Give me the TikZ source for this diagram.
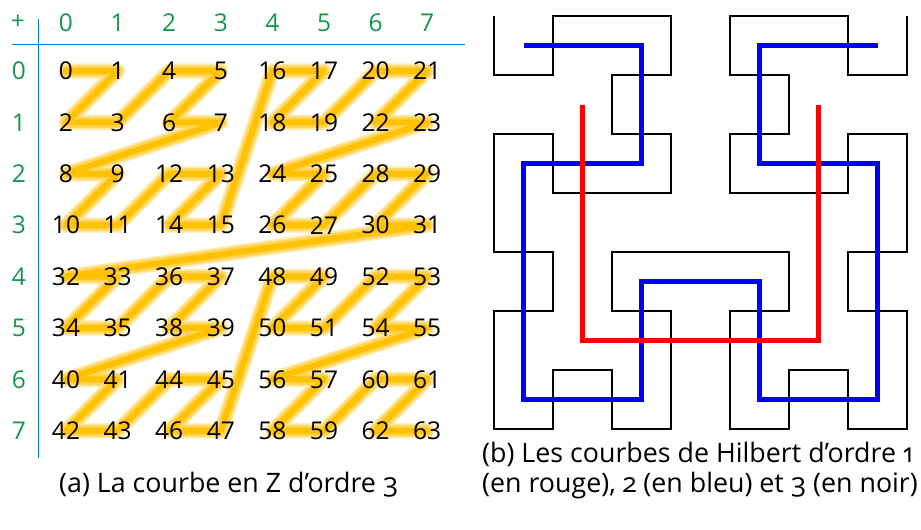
\documentclass[tikz,border=0pt]{standalone}
\usepackage{fontspec}
\setmainfont{Open Sans}
\newfontfamily\capfont[Numbers=OldStyle]{Open Sans}
\definecolor{hdrgreen}{RGB}{20,150,80}
\definecolor{tblblue}{RGB}{0,122,204}
\definecolor{glowA}{RGB}{255,232,160}
\definecolor{glowB}{RGB}{255,212,90}
\definecolor{glowC}{RGB}{255,194,0}
\begin{document}
\begin{tikzpicture}[x=1pt,y=-1pt,
  numtxt/.style={inner sep=0pt,font=\fontsize{24.5}{28}\selectfont},
  hdr/.style={numtxt,text=hdrgreen},
  tblline/.style={draw=tblblue,line width=1.5pt},
  glow/.style={line cap=round,line join=round},
  hblack/.style={draw=black,line width=2pt},
  hblue/.style={draw=blue,line width=4.5pt},
  hred/.style={draw=red,line width=5.5pt},
  captxt/.style={inner sep=0pt,anchor=base west,align=left,font=\capfont\fontsize{26.8}{30}\selectfont}]
\useasboundingbox (0,0) rectangle (921,530);
% ---- table frame
\draw[tblline] (12,44.3) -- (465,44.3);
\draw[tblline] (38.3,19) -- (38.3,458);
\node[hdr] (plus) at (18,22) {+};
\foreach \c in {0,...,7}{
  \node[hdr] (col\c) at (66+51.6*\c,23) {\c};
  \node[hdr] (row\c) at (19,71+51.4*\c) {\c};
}
% ---- Z-order cells
\foreach \v in {0,...,63}{
  \pgfmathtruncatemacro\cc{mod(\v,2)+2*mod(floor(\v/4),2)+4*mod(floor(\v/16),2)}
  \pgfmathtruncatemacro\rr{mod(floor(\v/2),2)+2*mod(floor(\v/8),2)+4*mod(floor(\v/32),2)}
  \coordinate (z\v) at (66+51.6*\cc,71+51.4*\rr);
}
\draw[glow,draw=glowA,line width=15pt] (z0) \foreach \i in {1,...,63}{ -- (z\i) };
\draw[glow,draw=glowB,line width=11pt] (z0) \foreach \i in {1,...,63}{ -- (z\i) };
\draw[glow,draw=glowC,line width=6pt] (z0) \foreach \i in {1,...,63}{ -- (z\i) };
\foreach \v in {0,...,63}{
  \node[numtxt] (n\v) at (z\v) {\v};
}
% ---- Hilbert curves
\begin{scope}[xshift=494pt,yshift=-16pt,x=59pt,y=-59pt]
\draw[hblack] plot coordinates {
(0,0)(0,1)(1,1)(1,0)(2,0)(3,0)(3,1)(2,1)(2,2)(3,2)(3,3)(2,3)(1,3)(1,2)(0,2)(0,3)
(0,4)(1,4)(1,5)(0,5)(0,6)(0,7)(1,7)(1,6)(2,6)(2,7)(3,7)(3,6)(3,5)(2,5)(2,4)(3,4)
(4,4)(5,4)(5,5)(4,5)(4,6)(4,7)(5,7)(5,6)(6,6)(6,7)(7,7)(7,6)(7,5)(6,5)(6,4)(7,4)
(7,3)(7,2)(6,2)(6,3)(5,3)(4,3)(4,2)(5,2)(5,1)(4,1)(4,0)(5,0)(6,0)(6,1)(7,1)(7,0)};
\end{scope}
\begin{scope}[xshift=523.5pt,yshift=-45.5pt,x=118pt,y=-118pt]
\draw[hblue] plot coordinates {
(0,0)(1,0)(1,1)(0,1)(0,2)(0,3)(1,3)(1,2)(2,2)(2,3)(3,3)(3,2)(3,1)(2,1)(2,0)(3,0)};
\end{scope}
\begin{scope}[xshift=582.5pt,yshift=-104.5pt,x=236pt,y=-236pt]
\draw[hred] plot coordinates {(0,0)(0,1)(1,1)(1,0)};
\end{scope}
% ---- captions
\node[captxt] (capa) at (59,492) {(a) La courbe en Z d’ordre 3};
\node[captxt] (capb) at (482,492) {(b) Les courbes de Hilbert d’ordre 1\\(en rouge), 2 (en bleu) et 3 (en noir)};
\end{tikzpicture}
\end{document}
